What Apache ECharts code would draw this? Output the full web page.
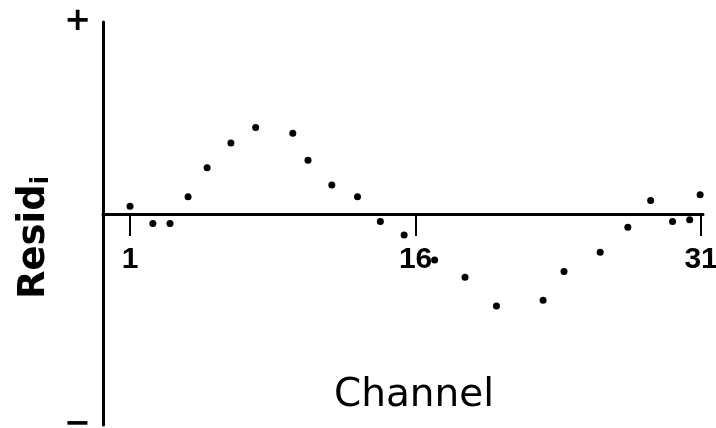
<!DOCTYPE html>
<html>
<head>
<meta charset="utf-8">
<script src="https://cdn.jsdelivr.net/npm/echarts@6/dist/echarts.min.js"></script>
<style>
  html, body { margin: 0; padding: 0; background: #fff; }
  #chart { width: 716px; height: 428px; }
</style>
</head>
<body>
<div id="chart"></div>
<script>
// channel position of each dot
var channels = [1, 2.2, 3.1, 4.05, 5.05, 6.3, 7.6, 9.55, 10.35, 11.6, 12.95,
  14.15, 15.4, 17.0, 18.6, 20.25, 22.7, 23.8, 25.7, 27.15, 28.35, 29.5, 30.4, 30.95];
// residual, + is up (top of axis = 1)
var residuals = [0.04, -0.05, -0.05, 0.09, 0.24, 0.37, 0.45, 0.42, 0.28, 0.15, 0.09,
  -0.04, -0.11, -0.24, -0.33, -0.48, -0.45, -0.3, -0.2, -0.07, 0.07, -0.04, -0.03, 0.1];
var xTicks = [1, 16, 31];
var yEnds = [-1.1, 1];
var yEndLabels = ["\u2212", "+"];
var xMin = -0.42, xMax = 31.1;

var points = channels.map(function (c, i) {
  return [c, residuals[i]];
});

var chart = echarts.init(document.getElementById("chart"));
chart.setOption({
  animation: false,
  backgroundColor: "#fff",
  grid: [
    // main plot
    { left: 103, right: 13, top: 22, bottom: 3, outerBoundsMode: "none", containLabel: false },
    // upper half only: its bottom edge is the zero line, carries the channel axis
    { left: 103, right: 13, top: 22, bottom: 214, outerBoundsMode: "none", containLabel: false }
  ],
  xAxis: [
    {
      gridIndex: 0,
      type: "value",
      min: xMin,
      max: xMax,
      show: false
    },
    {
      gridIndex: 1,
      type: "value",
      min: xMin,
      max: xMax,
      position: "bottom",
      splitLine: { show: false },
      axisLine: { onZero: false, lineStyle: { color: "#000", width: 3 } },
      axisTick: {
        show: true,
        customValues: xTicks,
        length: 22,
        lineStyle: { color: "#000", width: 2 }
      },
      axisLabel: {
        customValues: xTicks,
        margin: 31,
        color: "#000",
        fontFamily: "Liberation Sans",
        fontWeight: "bold",
        fontSize: 30
      },
      name: "Channel",
      nameLocation: "middle",
      nameGap: 162,
      nameTextStyle: {
        color: "#000",
        fontFamily: "DejaVu Sans",
        fontSize: 39,
        padding: [0, 0, 0, 22]
      }
    }
  ],
  yAxis: [
    {
      gridIndex: 0,
      type: "value",
      min: yEnds[0],
      max: yEnds[1],
      splitLine: { show: false },
      axisLine: { show: true, onZero: false, lineStyle: { color: "#000", width: 3 } },
      axisTick: { show: false },
      axisLabel: {
        customValues: yEnds,
        margin: 12,
        color: "#000",
        fontFamily: "DejaVu Sans",
        fontWeight: "bold",
        fontSize: 32,
        formatter: function (v) {
          return v === yEnds[1] ? yEndLabels[1] : yEndLabels[0];
        }
      },
      name: "Resid{sub|i}",
      nameLocation: "middle",
      nameRotate: 90,
      nameGap: 43,
      nameTextStyle: {
        color: "#000",
        fontFamily: "DejaVu Sans",
        fontWeight: "bold",
        fontSize: 37,
        padding: [0, 28, 0, 0],
        rich: {
          sub: {
            fontFamily: "DejaVu Sans",
            fontWeight: "bold",
            fontSize: 24,
            color: "#000",
            verticalAlign: "bottom",
            padding: [14, 0, 0, 0]
          }
        }
      }
    },
    {
      gridIndex: 1,
      type: "value",
      min: 0,
      max: 1,
      show: false
    }
  ],
  series: [
    {
      type: "scatter",
      xAxisIndex: 0,
      yAxisIndex: 0,
      data: points,
      symbolSize: 7,
      itemStyle: { color: "#000", opacity: 1 }
    }
  ]
});
</script>
</body>
</html>
